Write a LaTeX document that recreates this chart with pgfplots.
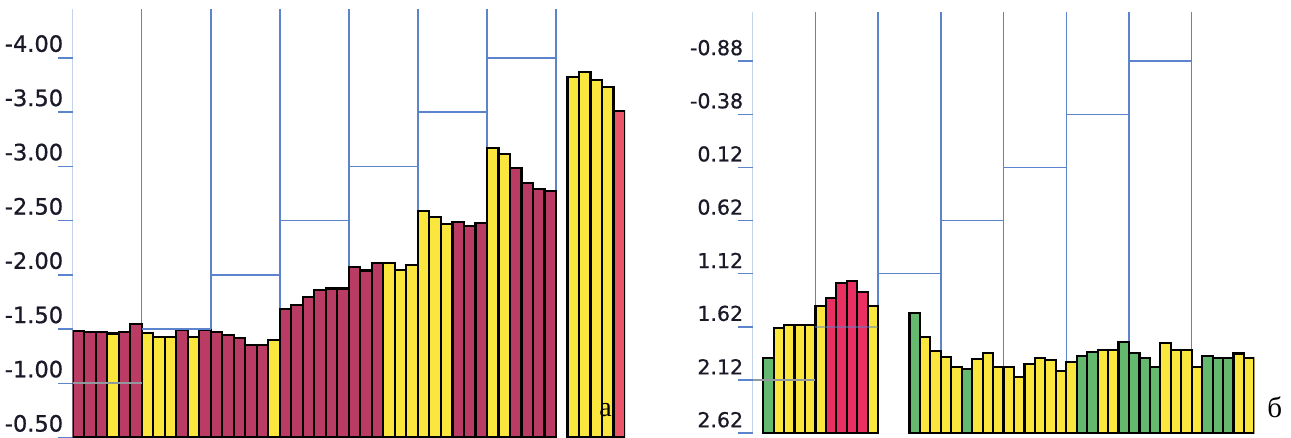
\documentclass[border=0pt]{standalone}
\usepackage{pgfplots}
\pgfplotsset{compat=1.18}
\usepackage{fontspec}
\setmainfont{DejaVu Sans}
\newfontfamily\tickfont[FakeBold=0.8]{DejaVu Sans}
\newfontfamily\serifcyr{Liberation Serif}
\definecolor{maroonbar}{RGB}{186,60,100}
\definecolor{redbar}{RGB}{236,84,106}
\definecolor{pinkbar}{RGB}{234,48,98}
\definecolor{yellowbar}{RGB}{250,230,60}
\definecolor{greenbar}{RGB}{100,185,110}
\definecolor{blueline}{RGB}{92,132,205}
\definecolor{grayline}{RGB}{145,152,158}
\definecolor{labeltext}{RGB}{25,25,40}
\pgfplotsset{
  barstyle/.style={ybar, bar width=1, bar shift=0pt, draw=black, line width=2.2bp},
  panel/.style={scale only axis, xmin=0, xmax=48, xtick=\empty,
    axis line style={draw=none}, ytick pos=left, tick align=outside,
    major tick length=14.4bp, ytick style={blueline, line width=1.5bp},
    yticklabel style={anchor=south east, inner sep=0pt, xshift=5bp, yshift=5.5bp, text=labeltext}},
  bl/.style={blueline, line width=1.5bp, forget plot},
  gl/.style={grayline, line width=1.8bp, forget plot},
  leftval/.style={y filter/.expression={-y}},
  rightval/.style={y filter/.expression={2.62-y}},
}
\begin{document}
\begin{tikzpicture}
\path[use as bounding box] (0,0) rectangle (1291bp,438bp);
% ---------------- panel a ----------------
\begin{axis}[panel, at={(72.7bp,0.4bp)}, anchor=south west,
  width=552.3bp, height=428.6bp, ymin=0.5, ymax=4.45,
  ytick={0.5,1,1.5,2,2.5,3,3.5,4},
  yticklabels={-0.50,-1.00,-1.50,-2.00,-2.50,-3.00,-3.50,-4.00},
  yticklabel style={font=\tickfont\fontsize{22.5bp}{24bp}\selectfont}]
% group separators
\addplot[bl, leftval] coordinates {(0,-0.5) (0,-4.45)};
\addplot[bl, leftval] coordinates {(6,-0.5) (6,-4.45)};
\addplot[bl, leftval] coordinates {(12,-0.5) (12,-4.45)};
\addplot[bl, leftval] coordinates {(18,-0.5) (18,-4.45)};
\addplot[bl, leftval] coordinates {(24,-0.5) (24,-4.45)};
\addplot[bl, leftval] coordinates {(30,-0.5) (30,-4.45)};
\addplot[bl, leftval] coordinates {(36,-0.5) (36,-4.45)};
\addplot[bl, leftval] coordinates {(42,-0.5) (42,-4.45)};
% bars
\addplot[barstyle, leftval, fill=maroonbar] coordinates {
 (0.5,-1.485) (1.5,-1.47) (2.5,-1.47) (4.5,-1.47) (5.5,-1.55)
 (9.5,-1.49) (11.5,-1.49)
 (12.5,-1.47) (13.5,-1.445) (14.5,-1.415) (15.5,-1.353) (16.5,-1.353)
 (18.5,-1.682) (19.5,-1.722) (20.5,-1.798) (21.5,-1.86) (22.5,-1.875) (23.5,-1.875)
 (24.5,-2.075) (25.5,-2.04) (26.5,-2.106)
 (33.5,-2.49) (34.5,-2.45) (35.5,-2.475)
 (38.5,-2.987) (39.5,-2.85) (40.5,-2.79) (41.5,-2.77)};
\addplot[barstyle, leftval, fill=yellowbar] coordinates {
 (3.5,-1.46)
 (6.5,-1.461) (7.5,-1.43) (8.5,-1.43) (10.5,-1.43)
 (17.5,-1.40)
 (27.5,-2.106) (28.5,-2.045) (29.5,-2.09)
 (30.5,-2.588) (31.5,-2.53) (32.5,-2.468)
 (36.5,-3.17) (37.5,-3.113)
 (43.5,-3.82) (44.5,-3.872) (45.5,-3.795) (46.5,-3.728)};
\addplot[barstyle, leftval, fill=redbar] coordinates {(47.5,-3.51)};
% threshold steps
\addplot[gl, leftval] coordinates {(0,-1.0) (6,-1.0)};
\addplot[bl, leftval] coordinates {(6,-1.5) (12,-1.5)};
\addplot[bl, leftval] coordinates {(12,-2.0) (18,-2.0)};
\addplot[bl, leftval] coordinates {(18,-2.5) (24,-2.5)};
\addplot[bl, leftval] coordinates {(24,-3.0) (30,-3.0)};
\addplot[bl, leftval] coordinates {(30,-3.5) (36,-3.5)};
\addplot[bl, leftval] coordinates {(36,-4.0) (42,-4.0)};
\end{axis}
% ---------------- panel b ----------------
\begin{axis}[panel, at={(752.7bp,4.8bp)}, anchor=south west,
  width=501.7bp, height=421.2bp, ymin=0, ymax=3.962,
  ytick={0,0.5,1,1.5,2,2.5,3,3.5},
  yticklabels={2.62,2.12,1.62,1.12,0.62,0.12,-0.38,-0.88},
  yticklabel style={font=\tickfont\fontsize{20.5bp}{22bp}\selectfont}]
\addplot[bl, rightval] coordinates {(0,2.62) (0,-1.342)};
\addplot[bl, rightval] coordinates {(6,2.62) (6,-1.342)};
\addplot[bl, rightval] coordinates {(12,2.62) (12,-1.342)};
\addplot[bl, rightval] coordinates {(18,2.62) (18,-1.342)};
\addplot[bl, rightval] coordinates {(24,2.62) (24,-1.342)};
\addplot[bl, rightval] coordinates {(30,2.62) (30,-1.342)};
\addplot[bl, rightval] coordinates {(36,2.62) (36,-1.342)};
\addplot[bl, rightval] coordinates {(42,2.62) (42,-1.342)};
\addplot[barstyle, rightval, fill=greenbar] coordinates {
 (1.5,1.916)
 (15.5,1.487)
 (20.5,2.017)
 (31.5,1.891) (32.5,1.854) (35.5,1.765)
 (36.5,1.869) (37.5,1.916) (38.5,1.995)
 (43.5,1.891) (44.5,1.916) (45.5,1.916)};
\addplot[barstyle, rightval, fill=yellowbar] coordinates {
 (2.5,1.628) (3.5,1.603) (4.5,1.603) (5.5,1.603)
 (6.5,1.424) (11.5,1.424)
 (16.5,1.713) (17.5,1.845)
 (18.5,1.906) (19.5,1.995) (21.5,1.925) (22.5,1.869) (23.5,1.995)
 (24.5,1.995) (25.5,2.095) (26.5,1.97) (27.5,1.91) (28.5,1.932) (29.5,2.032)
 (30.5,1.948) (33.5,1.838) (34.5,1.838)
 (39.5,1.769) (40.5,1.838) (41.5,1.838)
 (42.5,1.995) (46.5,1.87) (47.5,1.916)};
\addplot[barstyle, rightval, fill=pinkbar] coordinates {
 (7.5,1.346) (8.5,1.205) (9.5,1.189) (10.5,1.289)};
\addplot[gl, rightval] coordinates {(0,2.12) (6,2.12)};
\addplot[bl, rightval, opacity=0.5] coordinates {(6,1.62) (12,1.62)};
\addplot[bl, rightval] coordinates {(12,1.12) (18,1.12)};
\addplot[bl, rightval] coordinates {(18,0.62) (24,0.62)};
\addplot[bl, rightval] coordinates {(24,0.12) (30,0.12)};
\addplot[bl, rightval] coordinates {(30,-0.38) (36,-0.38)};
\addplot[bl, rightval] coordinates {(36,-0.88) (42,-0.88)};
\end{axis}
\node[font=\serifcyr\fontsize{28bp}{30bp}\selectfont, inner sep=0pt] at (605.7bp,28bp) {а};
\node[font=\serifcyr\fontsize{29bp}{31bp}\selectfont, inner sep=0pt] at (1274.7bp,31bp) {б};
\end{tikzpicture}
\end{document}
